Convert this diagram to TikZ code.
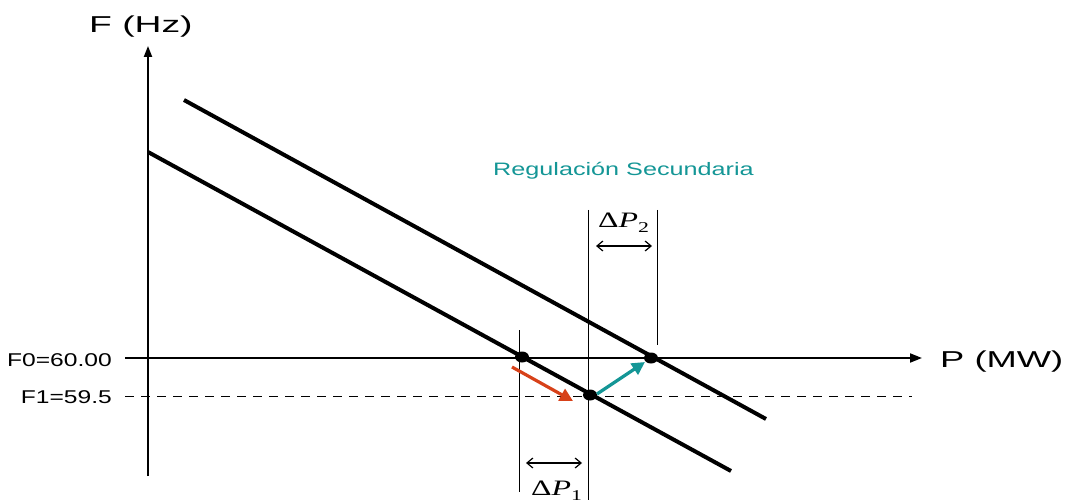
\documentclass[tikz,border=0pt]{standalone}
\usepackage{fontspec}
\setmainfont{Liberation Sans}
\newfontfamily\seriff{Liberation Serif}
\usetikzlibrary{arrows.meta,shapes.geometric}
\definecolor{tealc}{RGB}{20,150,150}
\definecolor{redc}{RGB}{215,65,25}
\newcommand{\hs}[2]{\scalebox{#1}[1]{#2}}
\begin{document}
\begin{tikzpicture}[x=1pt,y=-1pt,
  axis/.style={line width=2pt},
  curve/.style={line width=4pt},
  guide/.style={line width=1pt},
  dim/.style={line width=1.2pt,{Straight Barb[length=6pt,width=10pt]}-{Straight Barb[length=6pt,width=10pt]}},
  dot/.style={ellipse,fill=black,inner sep=0pt,minimum width=14pt,minimum height=11pt},
  lbl/.style={font=\fontsize{18.5}{21}\selectfont,anchor=base east,inner sep=0pt},
  big/.style={font=\fontsize{23}{26}\selectfont,inner sep=0pt,anchor=base west},
  dlbl/.style={font=\seriff\fontsize{22}{24}\selectfont,inner sep=0pt,anchor=base west},
  fat/.style={line width=3.2pt,-{Triangle[length=13pt,width=13pt]}}]
\useasboundingbox (0,0) rectangle (1072,500);
% axes
\coordinate (yb) at (148,476);
\coordinate (yt) at (148,46);
\draw[axis,-{Triangle[length=11pt,width=8pt]}] (yb) -- (yt);
\coordinate (xl) at (125,358);
\coordinate (xr) at (922,358);
\draw[axis,-{Triangle[length=12pt,width=9pt]}] (xl) -- (xr);
\coordinate (dl) at (125,396);
\coordinate (dr) at (912,396);
\draw[guide,dash pattern=on 9pt off 7pt] (dl) -- (dr);
% labels
\node[big] (fhz) at (89,33) {\hs{1.62}{F (Hz)}};
\node[big] (pmw) at (940,367) {\hs{1.58}{P (MW)}};
\node[lbl] (f0) at (112,366) {\hs{1.33}{F0=60.00}};
\node[lbl] (f1) at (112,403) {\hs{1.33}{F1=59.5}};
\node[font=\fontsize{18}{20}\selectfont,text=tealc,inner sep=0pt,anchor=base west] (reg) at (493,176) {\hs{1.4}{Regulación Secundaria}};
% droop lines
\coordinate (a1) at (148,152);
\coordinate (a2) at (731,471);
\draw[curve] (a1) -- (a2);
\coordinate (b1) at (184,100);
\coordinate (b2) at (766,419);
\draw[curve] (b1) -- (b2);
% guides
\coordinate (v1t) at (519,330); \coordinate (v1b) at (519,492);
\coordinate (v2t) at (588,210); \coordinate (v2b) at (588,500);
\coordinate (v3t) at (657,210); \coordinate (v3b) at (657,345);
\draw[guide] (v1t) -- (v1b);
\draw[guide] (v2t) -- (v2b);
\draw[guide] (v3t) -- (v3b);
% dims
\coordinate (p1a) at (526,463); \coordinate (p1b) at (582,463);
\draw[dim] (p1a) -- (p1b);
\node[dlbl] (dp1) at (531,495) {\hs{1.45}{Δ\textit{P}\raisebox{-5pt}{\fontsize{15}{17}\selectfont 1}}};
\coordinate (p2a) at (596,246); \coordinate (p2b) at (652,246);
\draw[dim] (p2a) -- (p2b);
\node[dlbl] (dp2) at (598,228) {\hs{1.45}{Δ\textit{P}\raisebox{-5pt}{\fontsize{15}{17}\selectfont 2}}};
% points
\node[dot] (A) at (522,357) {};
\node[dot] (B) at (590,395) {};
\node[dot] (C) at (651,358) {};
% arrows
\coordinate (r0) at (512,367);
\coordinate (r1) at (573,401);
\draw[redc,fat] (r0) -- (r1);
\coordinate (t0) at (597,394);
\coordinate (t1) at (645,362);
\draw[tealc,fat] (t0) -- (t1);
\end{tikzpicture}
\end{document}
